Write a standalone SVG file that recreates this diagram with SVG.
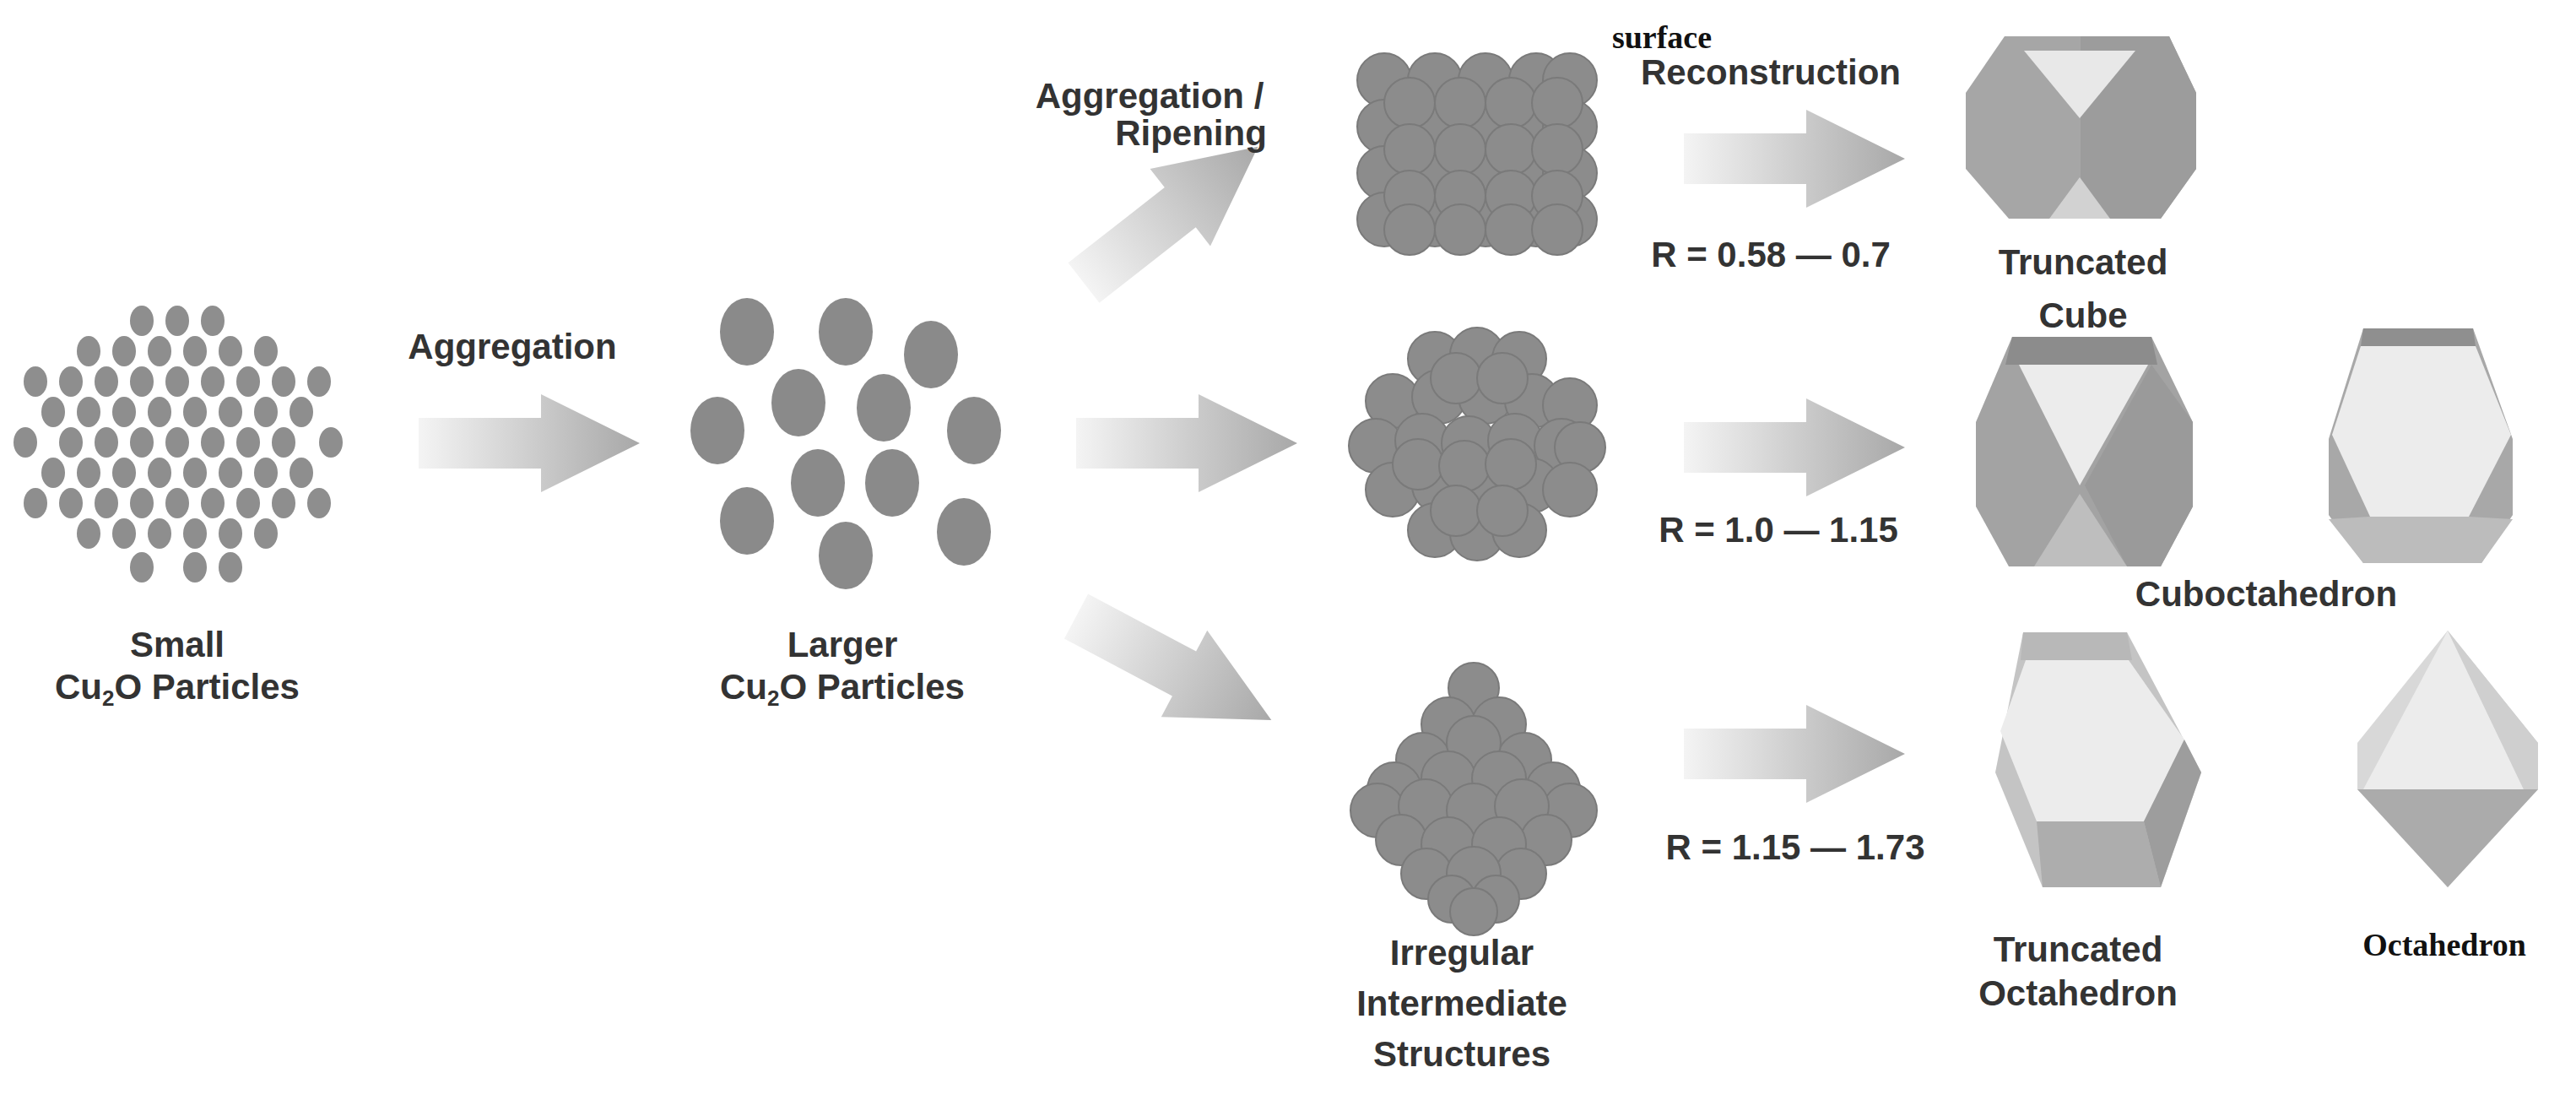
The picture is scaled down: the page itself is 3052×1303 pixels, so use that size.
<svg xmlns="http://www.w3.org/2000/svg" width="3052" height="1303" viewBox="0 0 3052 1303">
<style>
.t{font-family:"Liberation Sans",Arial,sans-serif;font-weight:bold;font-size:42px;fill:#333;text-anchor:middle}
.s{font-family:"Liberation Serif","Times New Roman",serif;font-weight:bold;font-size:38px;fill:#111;text-anchor:middle}
.sd ellipse{fill:#8e8e8e}
.ld ellipse{fill:#8a8a8a}
.cl circle{fill:#8c8c8c;stroke:#7a7a7a;stroke-width:2}
</style>
<defs>
<linearGradient id="g" x1="0" y1="0" x2="1" y2="0"><stop offset="0" stop-color="#f4f4f4"/><stop offset="1" stop-color="#a8a8a8"/></linearGradient>
<path id="arr" d="M0,-30 H145 V-58 L262,0 L145,58 V30 H0 Z" fill="url(#g)"/>
</defs>
<rect width="3052" height="1303" fill="#fff"/>
<g id="small">
<g class="sd">
<ellipse cx="168" cy="380" rx="14" ry="18"/><ellipse cx="210" cy="380" rx="14" ry="18"/><ellipse cx="252" cy="380" rx="14" ry="18"/>
<ellipse cx="105" cy="416" rx="14" ry="18"/><ellipse cx="147" cy="416" rx="14" ry="18"/><ellipse cx="189" cy="416" rx="14" ry="18"/><ellipse cx="231" cy="416" rx="14" ry="18"/><ellipse cx="273" cy="416" rx="14" ry="18"/><ellipse cx="315" cy="416" rx="14" ry="18"/>
<ellipse cx="42" cy="452" rx="14" ry="18"/><ellipse cx="84" cy="452" rx="14" ry="18"/><ellipse cx="126" cy="452" rx="14" ry="18"/><ellipse cx="168" cy="452" rx="14" ry="18"/><ellipse cx="210" cy="452" rx="14" ry="18"/><ellipse cx="252" cy="452" rx="14" ry="18"/><ellipse cx="294" cy="452" rx="14" ry="18"/><ellipse cx="336" cy="452" rx="14" ry="18"/><ellipse cx="378" cy="452" rx="14" ry="18"/>
<ellipse cx="63" cy="488" rx="14" ry="18"/><ellipse cx="105" cy="488" rx="14" ry="18"/><ellipse cx="147" cy="488" rx="14" ry="18"/><ellipse cx="189" cy="488" rx="14" ry="18"/><ellipse cx="231" cy="488" rx="14" ry="18"/><ellipse cx="273" cy="488" rx="14" ry="18"/><ellipse cx="315" cy="488" rx="14" ry="18"/><ellipse cx="357" cy="488" rx="14" ry="18"/>
<ellipse cx="30" cy="524" rx="14" ry="18"/><ellipse cx="84" cy="524" rx="14" ry="18"/><ellipse cx="126" cy="524" rx="14" ry="18"/><ellipse cx="168" cy="524" rx="14" ry="18"/><ellipse cx="210" cy="524" rx="14" ry="18"/><ellipse cx="252" cy="524" rx="14" ry="18"/><ellipse cx="294" cy="524" rx="14" ry="18"/><ellipse cx="336" cy="524" rx="14" ry="18"/><ellipse cx="392" cy="524" rx="14" ry="18"/>
<ellipse cx="63" cy="560" rx="14" ry="18"/><ellipse cx="105" cy="560" rx="14" ry="18"/><ellipse cx="147" cy="560" rx="14" ry="18"/><ellipse cx="189" cy="560" rx="14" ry="18"/><ellipse cx="231" cy="560" rx="14" ry="18"/><ellipse cx="273" cy="560" rx="14" ry="18"/><ellipse cx="315" cy="560" rx="14" ry="18"/><ellipse cx="357" cy="560" rx="14" ry="18"/>
<ellipse cx="42" cy="596" rx="14" ry="18"/><ellipse cx="84" cy="596" rx="14" ry="18"/><ellipse cx="126" cy="596" rx="14" ry="18"/><ellipse cx="168" cy="596" rx="14" ry="18"/><ellipse cx="210" cy="596" rx="14" ry="18"/><ellipse cx="252" cy="596" rx="14" ry="18"/><ellipse cx="294" cy="596" rx="14" ry="18"/><ellipse cx="336" cy="596" rx="14" ry="18"/><ellipse cx="378" cy="596" rx="14" ry="18"/>
<ellipse cx="105" cy="632" rx="14" ry="18"/><ellipse cx="147" cy="632" rx="14" ry="18"/><ellipse cx="189" cy="632" rx="14" ry="18"/><ellipse cx="231" cy="632" rx="14" ry="18"/><ellipse cx="273" cy="632" rx="14" ry="18"/><ellipse cx="315" cy="632" rx="14" ry="18"/>
<ellipse cx="168" cy="672" rx="14" ry="18"/><ellipse cx="231" cy="672" rx="14" ry="18"/><ellipse cx="273" cy="672" rx="14" ry="18"/>
</g>
<text class="t" x="210" y="778">Small</text>
<text class="t" x="210" y="828">Cu<tspan font-size="26" dy="8">2</tspan><tspan dy="-8">O Particles</tspan></text>
</g>
<g id="larger">
<g class="ld">
<ellipse cx="885" cy="393" rx="32" ry="40"/><ellipse cx="1002" cy="393" rx="32" ry="40"/><ellipse cx="1103" cy="420" rx="32" ry="40"/><ellipse cx="946" cy="477" rx="32" ry="40"/><ellipse cx="1047" cy="483" rx="32" ry="40"/><ellipse cx="850" cy="510" rx="32" ry="40"/><ellipse cx="1154" cy="510" rx="32" ry="40"/><ellipse cx="885" cy="617" rx="32" ry="40"/><ellipse cx="969" cy="572" rx="32" ry="40"/><ellipse cx="1057" cy="572" rx="32" ry="40"/><ellipse cx="1142" cy="630" rx="32" ry="40"/><ellipse cx="1002" cy="658" rx="32" ry="40"/>
</g>
<text class="t" x="998" y="778">Larger</text>
<text class="t" x="998" y="828">Cu<tspan font-size="26" dy="8">2</tspan><tspan dy="-8">O Particles</tspan></text>
</g>
<g id="cube-cluster" class="cl">
<circle cx="1640" cy="95" r="32"/><circle cx="1700" cy="95" r="32"/><circle cx="1760" cy="95" r="32"/><circle cx="1820" cy="95" r="32"/><circle cx="1860" cy="95" r="32"/>
<circle cx="1640" cy="150" r="32"/><circle cx="1700" cy="150" r="32"/><circle cx="1760" cy="150" r="32"/><circle cx="1820" cy="150" r="32"/><circle cx="1860" cy="150" r="32"/>
<circle cx="1640" cy="205" r="32"/><circle cx="1700" cy="205" r="32"/><circle cx="1760" cy="205" r="32"/><circle cx="1820" cy="205" r="32"/><circle cx="1860" cy="205" r="32"/>
<circle cx="1640" cy="260" r="32"/><circle cx="1700" cy="260" r="32"/><circle cx="1760" cy="260" r="32"/><circle cx="1820" cy="260" r="32"/><circle cx="1860" cy="260" r="32"/>
<circle cx="1670" cy="122" r="30"/><circle cx="1730" cy="122" r="30"/><circle cx="1790" cy="122" r="30"/><circle cx="1845" cy="122" r="30"/>
<circle cx="1670" cy="177" r="30"/><circle cx="1730" cy="177" r="30"/><circle cx="1790" cy="177" r="30"/><circle cx="1845" cy="177" r="30"/>
<circle cx="1670" cy="232" r="30"/><circle cx="1730" cy="232" r="30"/><circle cx="1790" cy="232" r="30"/><circle cx="1845" cy="232" r="30"/>
<circle cx="1670" cy="272" r="30"/><circle cx="1730" cy="272" r="30"/><circle cx="1790" cy="272" r="30"/><circle cx="1845" cy="272" r="30"/>
</g>
<g id="hex-cluster" class="cl">
<circle cx="1700" cy="425" r="32"/><circle cx="1750" cy="420" r="32"/><circle cx="1800" cy="425" r="32"/>
<circle cx="1650" cy="475" r="32"/><circle cx="1705" cy="470" r="32"/><circle cx="1760" cy="470" r="32"/><circle cx="1815" cy="475" r="32"/><circle cx="1860" cy="480" r="32"/>
<circle cx="1630" cy="528" r="32"/><circle cx="1685" cy="522" r="32"/><circle cx="1740" cy="525" r="32"/><circle cx="1795" cy="522" r="32"/><circle cx="1850" cy="528" r="32"/><circle cx="1872" cy="530" r="30"/>
<circle cx="1650" cy="580" r="32"/><circle cx="1705" cy="575" r="32"/><circle cx="1760" cy="578" r="32"/><circle cx="1815" cy="575" r="32"/><circle cx="1860" cy="580" r="32"/>
<circle cx="1700" cy="628" r="32"/><circle cx="1750" cy="632" r="32"/><circle cx="1800" cy="628" r="32"/>
<circle cx="1725" cy="448" r="30"/><circle cx="1780" cy="448" r="30"/><circle cx="1680" cy="550" r="30"/><circle cx="1735" cy="552" r="30"/><circle cx="1790" cy="550" r="30"/><circle cx="1725" cy="605" r="30"/><circle cx="1780" cy="605" r="30"/>
</g>
<g id="diamond-cluster" class="cl">
<circle cx="1746" cy="815" r="30"/>
<circle cx="1716" cy="858" r="32"/><circle cx="1776" cy="858" r="32"/>
<circle cx="1686" cy="900" r="32"/><circle cx="1806" cy="900" r="32"/><circle cx="1746" cy="880" r="32"/>
<circle cx="1652" cy="935" r="32"/><circle cx="1840" cy="935" r="32"/>
<circle cx="1632" cy="960" r="32"/><circle cx="1860" cy="960" r="32"/>
<circle cx="1716" cy="922" r="32"/><circle cx="1776" cy="922" r="32"/>
<circle cx="1689" cy="955" r="32"/><circle cx="1746" cy="960" r="32"/><circle cx="1803" cy="955" r="32"/>
<circle cx="1660" cy="995" r="30"/><circle cx="1832" cy="995" r="30"/>
<circle cx="1716" cy="1000" r="32"/><circle cx="1776" cy="1000" r="32"/>
<circle cx="1690" cy="1035" r="30"/><circle cx="1802" cy="1035" r="30"/>
<circle cx="1746" cy="1035" r="32"/>
<circle cx="1720" cy="1065" r="28"/><circle cx="1772" cy="1065" r="28"/>
<circle cx="1746" cy="1080" r="28"/>
</g>
<g id="irregular-label">
<text class="t" x="1732" y="1143">Irregular</text>
<text class="t" x="1732" y="1203">Intermediate</text>
<text class="t" x="1732" y="1263">Structures</text>
</g>
<g id="truncated-cube">
<polygon points="2375,43 2570,43 2602,110 2602,200 2560,259 2380,259 2329,200 2329,110" fill="#a6a6a6"/>
<polygon points="2465,43 2570,43 2602,110 2602,200 2560,259 2465,259" fill="#9c9c9c"/>
<polygon points="2398,60 2530,60 2464,140" fill="#e8e8e8"/>
<polygon points="2428,259 2500,259 2464,210" fill="#d2d2d2"/>
<text class="t" x="2468" y="325">Truncated</text>
<text class="t" x="2468" y="388">Cube</text>
</g>
<g id="cuboctahedron-1">
<polygon points="2384,399 2549,399 2598,500 2598,600 2560,671 2380,671 2341,600 2341,500" fill="#a3a3a3"/>
<polygon points="2470,575 2549,432 2598,500 2598,600 2560,671 2520,671" fill="#9a9a9a"/>
<polygon points="2384,399 2549,399 2556,432 2376,432" fill="#8c8c8c"/>
<polygon points="2392,432 2545,432 2464,575" fill="#ececec"/>
<polygon points="2410,671 2520,671 2464,585" fill="#bebebe"/>
</g>
<g id="cuboctahedron-2">
<polygon points="2800,389 2930,389 2977,520 2977,610 2940,667 2800,667 2759,610 2759,520" fill="#a8a8a8"/>
<polygon points="2800,389 2930,389 2933,410 2797,410" fill="#8f8f8f"/>
<polygon points="2797,410 2933,410 2975,515 2925,612 2808,612 2763,515" fill="#ececec"/>
<polygon points="2808,612 2925,612 2977,615 2940,667 2800,667 2759,615" fill="#bcbcbc"/>
<text class="t" x="2685" y="718">Cuboctahedron</text>
</g>
<g id="truncated-octahedron">
<polygon points="2397,749 2520,749 2608,915 2560,1051 2420,1051 2364,915" fill="#c4c4c4"/>
<polygon points="2397,749 2520,749 2526,782 2394,782" fill="#b8b8b8"/>
<polygon points="2400,782 2522,782 2588,876 2540,973 2413,973 2370,866" fill="#ececec"/>
<polygon points="2413,973 2540,973 2560,1051 2420,1051" fill="#adadad"/>
<polygon points="2588,876 2608,915 2560,1051 2540,973" fill="#9d9d9d"/>
<text class="t" x="2462" y="1139">Truncated</text>
<text class="t" x="2462" y="1191">Octahedron</text>
</g>
<g id="octahedron">
<polygon points="2900,747 2793,880 2793,935 2900,1051 3007,935 3007,880" fill="#d8d8d8"/>
<polygon points="2900,747 2800,935 2990,935" fill="#ececec"/>
<polygon points="2900,747 3007,880 3007,935 2990,935" fill="#cfcfcf"/>
<polygon points="2793,935 3007,935 2900,1051" fill="#ababab"/>
<text class="s" x="2896" y="1132">Octahedron</text>
</g>
<g id="connectors">
<use href="#arr" transform="translate(496,525)"/>
<use href="#arr" transform="translate(1284,335) rotate(-38)"/>
<use href="#arr" transform="translate(1275,525)"/>
<use href="#arr" transform="translate(1275,730) rotate(28)"/>
<use href="#arr" transform="translate(1995,188)"/>
<use href="#arr" transform="translate(1995,530)"/>
<use href="#arr" transform="translate(1995,893)"/>
</g>
<g id="labels">
<text class="t" x="607" y="425">Aggregation</text>
<text class="t" x="1362" y="128">Aggregation /</text>
<text class="t" x="1411" y="172">Ripening</text>
<text class="s" x="1969" y="57" font-size="34">surface</text>
<text class="t" x="2098" y="100">Reconstruction</text>
<text class="t" x="2098" y="316">R = 0.58 — 0.7</text>
<text class="t" x="2107" y="642">R = 1.0 — 1.15</text>
<text class="t" x="2127" y="1018">R = 1.15 — 1.73</text>
</g>
</svg>
